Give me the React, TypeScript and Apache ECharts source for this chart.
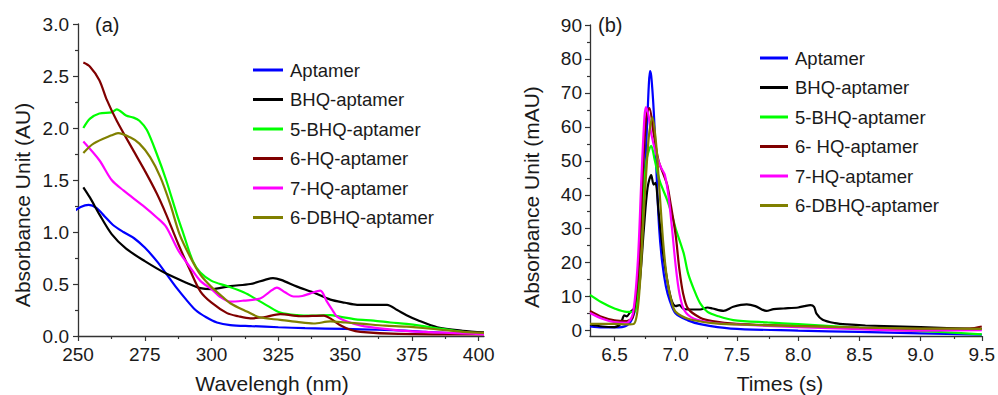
import React, { useEffect, useRef } from "react";
import * as echarts from "echarts";

// ---------- Panel (a): UV absorbance vs wavelength ----------
const namesA = ["Aptamer", "BHQ-aptamer", "5-BHQ-aptamer", "6-HQ-aptamer", "7-HQ-aptamer", "6-DBHQ-aptamer"];
const colors = ["#0000ff", "#000000", "#00ff00", "#800000", "#ff00ff", "#808000"];

const aptamerA = [[248,1.19],[251,1.24],[254,1.26],[257,1.23],[260,1.15],[263,1.07],[267,1.0],[271,0.94],[275,0.85],[279.5,0.72],[283,0.6],[287,0.46],[290.5,0.35],[294,0.25],[298,0.18],[302,0.13],[307,0.105],[315,0.095],[325,0.084],[335,0.075],[350,0.068],[362,0.06],[370,0.055],[380,0.04],[394,0.026],[402,0.025]];
const bhqA = [[252,1.43],[254.5,1.33],[258,1.17],[262.6,0.98],[268,0.84],[275,0.72],[283,0.6],[290.8,0.51],[295.8,0.46],[300,0.45],[307,0.48],[314.5,0.5],[320,0.54],[323,0.556],[326,0.54],[332,0.475],[338,0.42],[344.5,0.35],[350,0.32],[354.5,0.3],[360,0.3],[365.7,0.3],[369.5,0.25],[373,0.2],[377,0.154],[384.5,0.084],[394,0.05],[402,0.035]];
const bhq5A = [[252,2.0],[254.5,2.09],[258,2.14],[262.6,2.15],[264.5,2.18],[268,2.12],[270.8,2.1],[273,2.07],[275.8,1.98],[279.5,1.75],[283,1.5],[287,1.17],[289.5,0.98],[293,0.72],[295.8,0.61],[300,0.53],[305.8,0.48],[312,0.42],[317,0.35],[321,0.29],[325.7,0.225],[332,0.2],[338,0.195],[344.5,0.2],[348,0.186],[354,0.16],[360.7,0.148],[367,0.13],[373,0.116],[378,0.1],[384.5,0.074],[394,0.04],[402,0.02]];
const hq6A = [[252,2.63],[254.5,2.59],[258,2.46],[260.8,2.27],[264.5,2.07],[270.8,1.78],[275,1.59],[279.5,1.37],[283,1.17],[287.6,0.88],[292,0.63],[295.8,0.43],[300,0.32],[305.8,0.22],[310,0.19],[314.5,0.17],[319.5,0.18],[325.7,0.21],[333.2,0.19],[342,0.196],[345,0.16],[348,0.106],[352,0.06],[355.7,0.04],[370,0.02],[402,0.015]];
const hq7A = [[252,1.87],[258,1.69],[262.6,1.5],[267,1.4],[275,1.24],[279.5,1.14],[283,1.05],[287.6,0.82],[292,0.66],[295.8,0.53],[300,0.45],[303,0.38],[307,0.33],[312,0.34],[318.2,0.36],[321.5,0.42],[324.5,0.466],[327.5,0.42],[330.7,0.38],[334,0.385],[337,0.41],[340.7,0.437],[343.2,0.33],[345.5,0.24],[347,0.186],[350.7,0.14],[356,0.1],[363,0.074],[375,0.045],[394,0.026],[402,0.015]];
const dbhq6A = [[252,1.76],[255.8,1.85],[262.6,1.93],[265,1.95],[269.5,1.91],[273,1.85],[277,1.72],[280.8,1.53],[284.5,1.27],[288,0.98],[292,0.76],[295.8,0.59],[300,0.47],[304,0.38],[307,0.315],[313.2,0.235],[318,0.18],[325.7,0.155],[332,0.135],[338.2,0.12],[344.5,0.14],[350,0.13],[357,0.116],[365,0.1],[373,0.09],[384,0.065],[394,0.04],[402,0.03]];

const ticksXA = [250, 275, 300, 325, 350, 375, 400];
const minorXA = [262.5, 287.5, 312.5, 337.5, 362.5, 387.5];
const ticksYA = [0, 0.5, 1.0, 1.5, 2.0, 2.5, 3.0];
const minorYA = [0.25, 0.75, 1.25, 1.75, 2.25, 2.75];

// ---------- Panel (b): chromatogram ----------
const namesB = ["Aptamer", "BHQ-aptamer", "5-BHQ-aptamer", "6- HQ-aptamer", "7-HQ-aptamer", "6-DBHQ-aptamer"];

const aptamerB = [[6.3,1.2],[6.4,0.9],[6.5,0.9],[6.6,1.5],[6.65,4],[6.69,10],[6.71,20],[6.73,32],[6.75,48],[6.768,62],[6.78,72],[6.79,76.4],[6.8,75],[6.815,68],[6.827,60],[6.845,45],[6.865,30],[6.89,20],[6.92,13],[6.95,9],[7.0,5],[7.1,3],[7.2,1.9],[7.45,0.6],[8.0,0],[8.5,-0.4],[9.0,-0.8],[9.5,-1.2]];
const bhqB = [[6.3,1.8],[6.4,1.2],[6.5,1.0],[6.55,2],[6.58,4.5],[6.6,4.2],[6.63,5.5],[6.66,6.5],[6.7,12],[6.74,30],[6.77,42],[6.8,45.8],[6.82,43],[6.835,43.5],[6.86,35],[6.9,22],[6.94,13],[6.97,8.5],[7.0,7.2],[7.03,7.5],[7.06,6.5],[7.1,6.2],[7.2,6.2],[7.26,6.8],[7.3,6.5],[7.39,5.8],[7.47,7],[7.58,7.7],[7.65,7.2],[7.74,5.8],[7.8,6.3],[7.88,6.5],[8.0,6.8],[8.05,7.2],[8.1,7.5],[8.13,7],[8.15,5],[8.2,3.2],[8.3,2.2],[8.4,1.8],[8.55,1.5],[9.0,1.0],[9.5,0.4]];
const bhq5B = [[6.3,10.5],[6.39,8.4],[6.5,6.5],[6.6,5.5],[6.66,5.5],[6.7,14],[6.73,35],[6.76,50],[6.8,54.4],[6.83,50],[6.87,44],[6.93,38.5],[6.97,34],[7.0,30],[7.065,22.8],[7.1,17],[7.15,12],[7.2,8],[7.26,5.5],[7.35,4.2],[7.47,3.1],[7.75,2.4],[8.0,1.9],[8.4,1.0],[8.82,0.15],[9.2,-0.5],[9.5,-1.1]];
const hq6B = [[6.3,5.8],[6.4,4],[6.5,3],[6.6,2.8],[6.65,4],[6.7,20],[6.73,45],[6.76,63],[6.785,65.5],[6.82,58],[6.86,50],[6.9,46],[6.93,43],[6.96,37],[7.0,28],[7.03,18],[7.06,11],[7.1,6.5],[7.2,3.8],[7.3,2.8],[7.5,2],[8.0,1.3],[8.5,0.8],[9.0,0.5],[9.4,0.6],[9.5,1.2]];
const hq7B = [[6.3,5.2],[6.4,3.5],[6.5,2.5],[6.6,2.3],[6.65,5],[6.69,20],[6.72,45],[6.745,63],[6.757,65.8],[6.78,63],[6.8,58],[6.84,52],[6.88,48],[6.91,46],[6.94,40],[6.97,30],[7.0,19],[7.03,11],[7.07,6],[7.15,3.5],[7.3,2.3],[7.5,1.8],[8.0,1],[8.5,0.4],[9.0,0],[9.5,0.1]];
const dbhq6B = [[6.3,2],[6.5,2],[6.6,1.8],[6.66,2],[6.7,10],[6.74,35],[6.78,57],[6.81,62.8],[6.84,55],[6.87,40],[6.9,25],[6.93,15],[6.97,8],[7.0,5.5],[7.1,3.5],[7.3,2.2],[7.5,1.8],[8.0,1.3],[8.5,0.9],[9.0,0.6],[9.5,0.5]];

const ticksXB = [6.5, 7.0, 7.5, 8.0, 8.5, 9.0, 9.5];
const minorXB = [6.75, 7.25, 7.75, 8.25, 8.75, 9.25];
const ticksYB = [0, 10, 20, 30, 40, 50, 60, 70, 80, 90];
const minorYB = [5, 15, 25, 35, 45, 55, 65, 75, 85];

const FONT = "Liberation Sans, Arial, sans-serif";
const TXT = "#1a1a1a";
const AX = "#333333";

function mainAxis(grid: number, min: number, max: number, ticks: number[], fmt: (v: number) => string, margin = 9) {
  return {
    type: "value",
    gridIndex: grid,
    min,
    max,
    axisLine: { show: true, onZero: false, lineStyle: { color: AX, width: 1.3 } },
    axisTick: { show: true, customValues: ticks, length: 5, lineStyle: { color: AX, width: 1.2 } },
    axisLabel: { show: true, customValues: ticks, formatter: fmt, fontSize: 19, fontFamily: FONT, color: TXT, margin },
    splitLine: { show: false },
  };
}
function minorAxis(grid: number, min: number, max: number, ticks: number[]) {
  return {
    type: "value",
    gridIndex: grid,
    min,
    max,
    axisLine: { show: false, onZero: false },
    axisTick: { show: true, customValues: ticks, length: 3, lineStyle: { color: AX, width: 1.2 } },
    axisLabel: { show: false },
    splitLine: { show: false },
  };
}

export default function App() {
  const ref = useRef<HTMLDivElement>(null);
  useEffect(() => {
    const chart = echarts.init(ref.current!, null, { renderer: "svg" });
    const dataA = [aptamerA, bhqA, bhq5A, hq6A, hq7A, dbhq6A];
    const dataB = [aptamerB, bhqB, bhq5B, hq6B, hq7B, dbhq6B];
    const line = (name: string, data: number[][], i: number, xi: number, yi: number) => ({
      type: "line",
      name,
      data,
      xAxisIndex: xi,
      yAxisIndex: yi,
      showSymbol: false,
      symbol: "none",
      smooth: 0.3,
      clip: false,
      lineStyle: { color: colors[i], width: 2.2 },
      itemStyle: { color: colors[i] },
    });
    const series: any[] = [];
    dataA.forEach((d, i) => series.push(line(namesA[i], d, i, 0, 0)));
    dataB.forEach((d, i) => series.push(line(namesB[i], d, i, 2, 2)));

    const legendBase = {
      orient: "vertical",
      itemWidth: 30,
      itemHeight: 3,
      icon: "rect",
      itemGap: 9.5,
      padding: 0,
      selectedMode: false,
      textStyle: { fontSize: 18.5, lineHeight: 20, fontFamily: FONT, color: TXT, padding: [0, 0, 0, 2] },
    };

    chart.setOption({
      animation: false,
      backgroundColor: "#ffffff",
      grid: [
        { left: 78, top: 24, width: 406, height: 312 },
        { left: 78, top: 24, width: 406, height: 312 },
        { left: 590, top: 25, width: 395, height: 311 },
        { left: 590, top: 25, width: 395, height: 311 },
      ],
      xAxis: [
        mainAxis(0, 250, 402, ticksXA, (v: number) => String(v)),
        minorAxis(1, 250, 402, minorXA),
        mainAxis(2, 6.3, 9.5, ticksXB, (v: number) => v.toFixed(1)),
        minorAxis(3, 6.3, 9.5, minorXB),
      ],
      yAxis: [
        mainAxis(0, 0, 3, ticksYA, (v: number) => v.toFixed(1), 9),
        minorAxis(1, 0, 3, minorYA),
        mainAxis(2, -1.6, 90, ticksYB, (v: number) => String(v), 8),
        minorAxis(3, -1.6, 90, minorYB),
      ],
      legend: [
        { ...legendBase, left: 253, top: 60, data: namesA },
        { ...legendBase, left: 760, top: 48, itemWidth: 28, data: namesB },
      ],
      graphic: [
        { type: "text", left: 95, top: 15, style: { text: "(a)", fontSize: 20, fontFamily: FONT, fill: TXT } },
        { type: "text", left: 598, top: 15, style: { text: "(b)", fontSize: 20, fontFamily: FONT, fill: TXT } },
        { type: "text", x: 22, y: 205, rotation: Math.PI / 2, style: { text: "Absorbance Unit (AU)", fontSize: 21, fontFamily: FONT, fill: TXT, align: "center", verticalAlign: "middle" } },
        { type: "text", x: 531, y: 197, rotation: Math.PI / 2, style: { text: "Absorbance Unit (mAU)", fontSize: 21, fontFamily: FONT, fill: TXT, align: "center", verticalAlign: "middle" } },
        { type: "text", x: 272, y: 383, style: { text: "Wavelengh (nm)", fontSize: 21, fontFamily: FONT, fill: TXT, align: "center", verticalAlign: "middle" } },
        { type: "text", x: 780, y: 383, style: { text: "Times (s)", fontSize: 21, fontFamily: FONT, fill: TXT, align: "center", verticalAlign: "middle" } },
      ],
      series,
    });
    return () => chart.dispose();
  }, []);
  return <div ref={ref} style={{ position: "fixed", left: 0, top: 0, width: 998, height: 395 }} />;
}
